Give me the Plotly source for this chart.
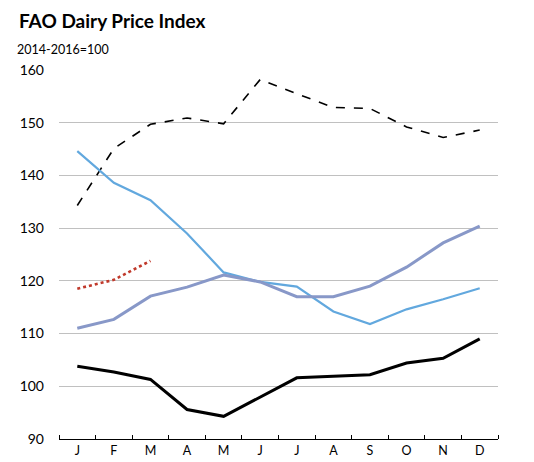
import plotly.graph_objects as go

months = ["J", "F", "M", "A", "M", "J", "J", "A", "S", "O", "N", "D"]
x_pos = list(range(len(months)))

# series
dashed_black = [134.3, 145.1, 149.7, 150.9, 149.8, 158.2, 155.5, 152.9, 152.7, 149.2, 147.2, 148.6]
light_blue = [144.6, 138.6, 135.3, 129.0, 121.6, 119.8, 118.9, 114.2, 111.8, 114.6, 116.5, 118.6]
grey_blue = [111.0, 112.7, 117.1, 118.8, 121.1, 119.8, 117.0, 117.0, 119.0, 122.6, 127.2, 130.4]
red_dotted = [118.5, 120.2, 123.8]
solid_black = [103.8, 102.7, 101.3, 95.6, 94.3, 98.0, 101.6, 101.9, 102.2, 104.4, 105.3, 109.0]

fig = go.Figure()

fig.add_trace(go.Scatter(x=x_pos, y=dashed_black, mode="lines",
                         line=dict(color="black", width=1.6, dash="dash")))
fig.add_trace(go.Scatter(x=x_pos, y=light_blue, mode="lines",
                         line=dict(color="#62a8de", width=2.2)))
fig.add_trace(go.Scatter(x=x_pos, y=grey_blue, mode="lines",
                         line=dict(color="#8898c8", width=3)))
fig.add_trace(go.Scatter(x=x_pos[:len(red_dotted)], y=red_dotted, mode="lines",
                         line=dict(color="#c0392b", width=2.6, dash="dot")))
fig.add_trace(go.Scatter(x=x_pos, y=solid_black, mode="lines",
                         line=dict(color="black", width=3)))

font_family = "Lato, Open Sans, sans-serif"

# page body has an 8px margin, so the figure is a bit smaller than the window
fig.update_layout(
    width=526, height=454,
    margin=dict(l=51, r=36, t=62, b=23),
    paper_bgcolor="white", plot_bgcolor="white",
    showlegend=False,
    font=dict(family=font_family, size=13, color="black"),
    annotations=[
        dict(text="<b>FAO Dairy Price Index</b>", xref="paper", yref="paper",
             x=-0.095, y=1.134, xanchor="left", yanchor="middle", showarrow=False,
             font=dict(size=19, family=font_family)),
        dict(text="2014-2016=100", xref="paper", yref="paper",
             x=-0.100, y=1.056, xanchor="left", yanchor="middle", showarrow=False,
             font=dict(size=12.5, family=font_family)),
    ],
)

fig.update_xaxes(
    range=[-0.5, 11.5], automargin=False,
    tickvals=x_pos, ticktext=months, ticks="", showgrid=False, zeroline=False,
    showline=True, linecolor="black", linewidth=1.2,
    minor=dict(tickvals=[i - 0.5 for i in range(13)], ticks="inside",
               ticklen=4, tickcolor="black", tickwidth=1.2, showgrid=False),
    tickfont=dict(size=12.5),
)
fig.update_yaxes(
    range=[90, 160], dtick=10, showgrid=True, gridcolor="#c0c0c0", gridwidth=1,
    zeroline=False, showline=False, ticks="", ticklabelstandoff=14,
    automargin=False, tickfont=dict(size=14),
)

fig.write_html("out.html")
